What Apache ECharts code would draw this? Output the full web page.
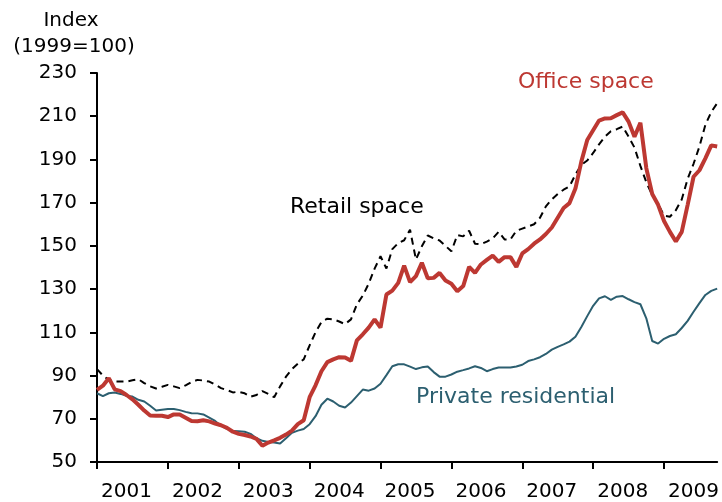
<!DOCTYPE html>
<html>
<head>
<meta charset="utf-8">
<script src="https://cdn.jsdelivr.net/npm/echarts@6/dist/echarts.min.js"></script>
<style>
  html, body { margin: 0; padding: 0; background: #fff; }
  #chart { width: 722px; height: 502px; }
</style>
</head>
<body>
<div id="chart"></div>
<script>
// monthly index values, Jan 2001 .. Oct 2009 (1999 = 100)
const years = ['2001', '2002', '2003', '2004', '2005', '2006', '2007', '2008', '2009']
const monthCount = 106

const office = [
  83.4, 85.3, 88.8, 83.6, 82.8, 81, 79, 76.5, 73.8, 71.5,
  71.4, 71.4, 70.8, 72, 72, 70.5, 69, 68.9, 69.3, 68.8,
  67.8, 67, 65.8, 64, 63, 62.5, 61.8, 60.7, 57.5, 59,
  60, 61.2, 62.7, 64.5, 67.5, 69.3, 80, 85.5, 92, 96.2,
  97.5, 98.5, 98.3, 96.8, 106.3, 109.1, 112.2, 116, 112.2, 127.5,
  129.3, 132.9, 140.9, 133.2, 136, 142.2, 135, 135.2, 137.5, 134,
  132.5, 129, 131.4, 140.3, 137.5, 141.4, 143.5, 145.5, 142.6, 144.8,
  144.8, 140.3, 146.5, 148.5, 151, 153, 155.5, 158.5, 163, 167.5,
  169.8, 176.5, 189, 199, 203.5, 208, 209, 209.1, 210.5, 211.8,
  207.5, 200.5, 207, 186, 174, 169, 161.5, 156.5, 152, 156.5,
  169, 182, 185, 190.5, 196.5, 196
]

const retail = [
  93, 90, 88, 87.2, 87.2, 87.2, 87.8, 88.3, 86.5, 85,
  84, 84.8, 85.7, 85, 84.2, 85.5, 87, 88, 87.7, 87.2,
  85.8, 84.2, 83.3, 82.2, 82.5, 81.8, 80.2, 81, 82.8, 81.5,
  80, 85, 89.5, 93, 95.5, 97.5, 104, 110, 114.8, 116.3,
  116, 115, 113.8, 116, 122.9, 127, 132.5, 139.5, 145.2, 139.5,
  148.5, 151.3, 152.6, 157.5, 143.7, 149.8, 154.8, 153.5, 152.5, 150,
  147.5, 155, 154.4, 157, 151, 150.8, 152, 153.5, 156.5, 153,
  153, 157, 158, 159, 160, 163, 168.3, 171.5, 174, 176,
  177.5, 183, 187.5, 189.5, 193, 197, 200.5, 203, 204, 205.2,
  200.5, 195.5, 187, 179.5, 173.5, 169.5, 164, 163.5, 166.5, 171.5,
  181, 188, 196, 206, 212, 216
]

const residential = [
  81.8, 80.5, 81.8, 82.2, 81.5, 80.6, 80.3, 78.8, 78, 76,
  73.8, 74.2, 74.5, 74.5, 74, 73.2, 72.6, 72.5, 72, 70.5,
  69, 66.8, 65.3, 64.3, 64.2, 64, 63, 61, 59.8, 59.3,
  59, 58.6, 61, 63.5, 64.5, 65.3, 67.5, 71.2, 76.5, 79.3,
  78, 76, 75.2, 77.5, 80.5, 83.5, 83, 84, 86.2, 90.2,
  94.3, 95.2, 95.2, 94.1, 93, 93.8, 94.2, 91.6, 89.5, 89.5,
  90.5, 91.8, 92.5, 93.3, 94.3, 93.5, 92, 93, 93.7, 93.7,
  93.7, 94.2, 95, 96.7, 97.5, 98.5, 100, 102, 103.3, 104.4,
  105.7, 108, 112.5, 117.5, 122.3, 125.7, 126.7, 125, 126.5, 126.8,
  125.3, 124, 123, 116.5, 106, 104.8, 107, 108.3, 109.1, 112,
  115.3, 119.5, 123.5, 127.3, 129.2, 130.2
]

const months = []
years.forEach(y => {
  for (let m = 1; m <= 12; m++) months.push(y + '-' + (m < 10 ? '0' + m : m))
})
months.length = monthCount

const FONT = 'DejaVu Sans'
const RED = '#BD3832'
const TEAL = '#2C5F70'

const chart = echarts.init(document.getElementById('chart'), null, { renderer: 'canvas' })

chart.setOption({
  animation: false,
  backgroundColor: '#fff',
  grid: { left: 97, right: 3, top: 73, bottom: 39, containLabel: false },
  xAxis: {
    type: 'category',
    boundaryGap: false,
    data: months,
    axisLine: { lineStyle: { color: '#000', width: 2 } },
    axisTick: {
      length: 7,
      interval: (i) => i % 12 === 0,
      lineStyle: { color: '#000', width: 2 }
    },
    axisLabel: {
      interval: (i) => i % 12 === 5,
      formatter: (v) => v.slice(0, 4),
      margin: 20,
      color: '#000',
      fontFamily: FONT,
      fontSize: 20
    },
    splitLine: { show: false }
  },
  yAxis: {
    type: 'value',
    min: 50,
    max: 230,
    interval: 20,
    axisLine: { show: true, lineStyle: { color: '#000', width: 2 } },
    axisTick: { show: true, length: 7, lineStyle: { color: '#000', width: 2 } },
    axisLabel: { margin: 20, color: '#000', fontFamily: FONT, fontSize: 20 },
    splitLine: { show: false }
  },
  graphic: [
    { type: 'text', x: 71, y: 21, style: { text: 'Index', font: '20px "DejaVu Sans"', fill: '#000', align: 'center', verticalAlign: 'middle' } },
    { type: 'text', x: 74, y: 47, style: { text: '(1999=100)', font: '20px "DejaVu Sans"', fill: '#000', align: 'center', verticalAlign: 'middle' } },
    { type: 'text', x: 518, y: 82, style: { text: 'Office space', font: '22px "DejaVu Sans"', fill: RED, align: 'left', verticalAlign: 'middle' } },
    { type: 'text', x: 290, y: 207, style: { text: 'Retail space', font: '22px "DejaVu Sans"', fill: '#000', align: 'left', verticalAlign: 'middle' } },
    { type: 'text', x: 416, y: 397, style: { text: 'Private residential', font: '22px "DejaVu Sans"', fill: TEAL, align: 'left', verticalAlign: 'middle' } }
  ],
  series: [
    {
      name: 'Private residential',
      type: 'line',
      showSymbol: false,
      data: residential,
      lineStyle: { color: TEAL, width: 2 },
      z: 2
    },
    {
      name: 'Retail space',
      type: 'line',
      showSymbol: false,
      data: retail,
      lineStyle: { color: '#000', width: 2, type: [7, 5] },
      z: 3
    },
    {
      name: 'Office space',
      type: 'line',
      showSymbol: false,
      data: office,
      lineStyle: { color: RED, width: 4 },
      z: 4
    }
  ]
})
</script>
</body>
</html>
